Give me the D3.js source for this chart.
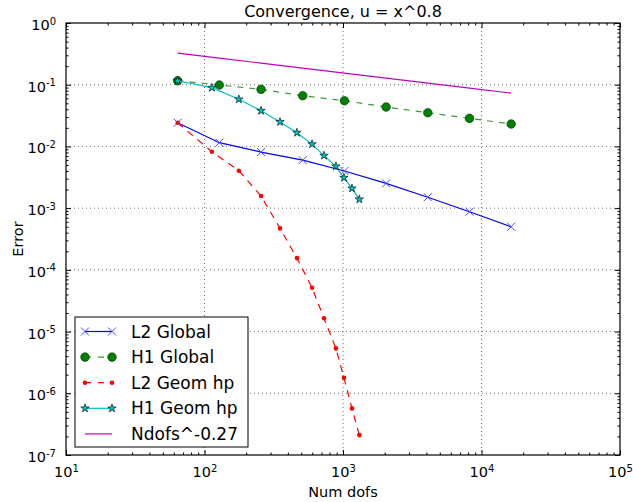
<!DOCTYPE html>
<html><head><meta charset="utf-8">
<script src="https://cdn.jsdelivr.net/npm/d3@7"></script>
<style>
body{margin:0;background:#fff;}
text{font-family:"DejaVu Sans",sans-serif;fill:#000;}
</style></head>
<body><svg id="c" width="633" height="502"></svg>
<script>
// ---- data ----
const globalDofs = [64, 128, 256, 512, 1024, 2048, 4096, 8192, 16384];
const l2Global   = [0.0242, 0.0115, 0.0081, 0.0060, 0.0040, 0.00252, 0.0015, 0.000875, 0.0005];
const h1Global   = [0.116, 0.099, 0.084, 0.0664, 0.055, 0.0435, 0.0352, 0.0285, 0.0231];
const geomDofs   = [64, 113, 177, 256, 351, 465, 598, 729, 889, 1016, 1161, 1312];
const l2Geom     = [0.0242, 0.0082, 0.00404, 0.00157, 0.00047, 0.000155, 5.13e-5, 1.64e-5, 5.34e-6, 1.78e-6, 5.69e-7, 2.1e-7];
const h1Geom     = [0.116, 0.0895, 0.058, 0.0379, 0.0249, 0.0167, 0.0109, 0.0071, 0.00476, 0.00311, 0.00209, 0.00139];
const refDofs    = [64, 128, 256, 512, 1024, 2048, 4096, 8192, 16384];
const refVals    = [0.325, 0.270, 0.224, 0.186, 0.154, 0.128, 0.106, 0.088, 0.073];
const xMajor = [1e1, 1e2, 1e3, 1e4, 1e5];
const yMajor = [1e-7, 1e-6, 1e-5, 1e-4, 1e-3, 1e-2, 1e-1, 1e0];
const seriesNames = ["L2 Global", "H1 Global", "L2 Geom hp", "H1 Geom hp", "Ndofs^-0.27"];
const title = "Convergence, u = x^0.8";
const xLabel = "Num dofs", yLabel = "Error";

// ---- layout ----
const L = 66, R = 620, T = 23, B = 455;
const svg = d3.select("#c");
const x = d3.scaleLog().domain([1e1, 1e5]).range([L, R]);
const y = d3.scaleLog().domain([1e-7, 1e0]).range([B, T]);

function minors(maj) {
  const out = [];
  for (let i = 0; i < maj.length - 1; i++) for (let k = 2; k <= 9; k++) out.push(maj[i] * k);
  return out;
}
const xMinor = minors(xMajor), yMinor = minors(yMajor);

// grid
const grid = svg.append("g");
grid.selectAll(".gx").data(xMajor.slice(1, -1)).enter().append("line")
  .attr("x1", d => x(d)).attr("x2", d => x(d)).attr("y1", T).attr("y2", B)
  .attr("stroke", "#000").attr("stroke-width", 0.8).attr("stroke-dasharray", "1,3").attr("opacity", 0.7);
grid.selectAll(".gy").data(yMajor.slice(1, -1)).enter().append("line")
  .attr("y1", d => y(d)).attr("y2", d => y(d)).attr("x1", L).attr("x2", R)
  .attr("stroke", "#000").attr("stroke-width", 0.8).attr("stroke-dasharray", "1,3").attr("opacity", 0.7);

// axes (ticks inward)
function supLabels(g) {
  g.selectAll(".tick text").each(function(d) {
    const t = d3.select(this);
    const e = Math.round(Math.log10(d));
    t.text("10");
    t.append("tspan").attr("dy", "-0.55em").attr("font-size", "10px").text(e);
  });
}
const axStyle = g => { g.select(".domain").remove(); g.selectAll(".tick line").attr("stroke", "#000"); };

const gxB = svg.append("g").attr("transform", `translate(0,${B})`)
  .call(d3.axisBottom(x).tickValues(xMajor).tickSize(-5).tickPadding(12)).call(axStyle);
gxB.selectAll(".tick text").attr("font-size", "14.5px");
supLabels(gxB);
svg.append("g").attr("transform", `translate(0,${B})`)
  .call(d3.axisBottom(x).tickValues(xMinor).tickSize(-2.5).tickFormat("")).call(axStyle);
svg.append("g").attr("transform", `translate(0,${T})`)
  .call(d3.axisTop(x).tickValues(xMajor).tickSize(-5).tickFormat("")).call(axStyle);
svg.append("g").attr("transform", `translate(0,${T})`)
  .call(d3.axisTop(x).tickValues(xMinor).tickSize(-2.5).tickFormat("")).call(axStyle);

const gyL = svg.append("g").attr("transform", `translate(${L},0)`)
  .call(d3.axisLeft(y).tickValues(yMajor).tickSize(-5).tickPadding(10)).call(axStyle);
gyL.selectAll(".tick text").attr("font-size", "14.5px").attr("dy", "0.45em");
supLabels(gyL);
svg.append("g").attr("transform", `translate(${L},0)`)
  .call(d3.axisLeft(y).tickValues(yMinor).tickSize(-2.5).tickFormat("")).call(axStyle);
svg.append("g").attr("transform", `translate(${R},0)`)
  .call(d3.axisRight(y).tickValues(yMajor).tickSize(-5).tickFormat("")).call(axStyle);
svg.append("g").attr("transform", `translate(${R},0)`)
  .call(d3.axisRight(y).tickValues(yMinor).tickSize(-2.5).tickFormat("")).call(axStyle);

// frame
svg.append("rect").attr("x", L).attr("y", T).attr("width", R - L).attr("height", B - T)
  .attr("fill", "none").attr("stroke", "#000").attr("stroke-width", 1.2);

// ---- series ----
const C = { blue: "#0000ff", green: "#008000", red: "#ff0000", cyan: "#00bfbf", mag: "#bf00bf" };
const line = d3.line().x(d => x(d[0])).y(d => y(d[1]));
const zip = (a, b) => a.map((v, i) => [v, b[i]]);
const star = d3.symbol().type(d3.symbolStar).size(22)();
const cross = "M-4,-4L4,4M-4,4L4,-4";

const plot = svg.append("g");
function drawSeries(g, pts, color, dash, marker) {
  g.append("path").attr("d", line(pts)).attr("fill", "none").attr("stroke", color)
    .attr("stroke-width", 1.2).attr("stroke-dasharray", dash || null);
  g.selectAll(null).data(pts).enter().append("g")
    .attr("transform", d => `translate(${x(d[0])},${y(d[1])})`).each(function() { marker(d3.select(this)); });
}
const mk = {
  cross: s => s.append("path").attr("d", cross).attr("stroke", "#4c4cff").attr("stroke-width", 1).attr("fill", "none"),
  circ: s => s.append("circle").attr("r", 4.3).attr("fill", C.green).attr("stroke", "#003000").attr("stroke-width", 0.6),
  dot: s => s.append("circle").attr("r", 2.3).attr("fill", C.red),
  star: s => s.append("path").attr("d", star).attr("fill", C.cyan).attr("stroke", "#000").attr("stroke-width", 0.6),
  none: s => {}
};
drawSeries(plot.append("g"), zip(refDofs, refVals), C.mag, null, mk.none);
drawSeries(plot.append("g"), zip(globalDofs, l2Global), C.blue, null, mk.cross);
drawSeries(plot.append("g"), zip(globalDofs, h1Global), "#3a9a3a", "6,6", mk.circ);
drawSeries(plot.append("g"), zip(geomDofs, l2Geom), C.red, "7,6", mk.dot);
drawSeries(plot.append("g"), zip(geomDofs, h1Geom), C.cyan, null, mk.star);

// ---- legend ----
const lg = svg.append("g");
lg.append("rect").attr("x", 75).attr("y", 317).attr("width", 173).attr("height", 130)
  .attr("fill", "#fff").attr("stroke", "#000").attr("stroke-width", 1);
const legStyles = [
  { c: C.blue, dash: null, m: mk.cross },
  { c: "#3a9a3a", dash: "6,6", m: mk.circ },
  { c: C.red, dash: "6,6", m: mk.dot },
  { c: C.cyan, dash: null, m: mk.star },
  { c: C.mag, dash: null, m: mk.none }
];
seriesNames.forEach((name, i) => {
  const yy = 331.5 + i * 25.6;
  const st = legStyles[i];
  lg.append("line").attr("x1", 85).attr("x2", 112).attr("y1", yy).attr("y2", yy)
    .attr("stroke", st.c).attr("stroke-width", 1.2).attr("stroke-dasharray", st.dash ? "6,7" : null);
  [85, 112].forEach(px => st.m(lg.append("g").attr("transform", `translate(${px},${yy})`)));
  lg.append("text").attr("x", 131).attr("y", yy).attr("dy", "0.36em").attr("font-size", "17px").text(name);
});

// ---- titles ----
svg.append("text").attr("x", (L + R) / 2).attr("y", 17).attr("text-anchor", "middle")
  .attr("font-size", "16px").text(title);
svg.append("text").attr("x", (L + R) / 2).attr("y", 497).attr("text-anchor", "middle")
  .attr("font-size", "14.5px").text(xLabel);
svg.append("text").attr("transform", `translate(23,${(T + B) / 2}) rotate(-90)`).attr("text-anchor", "middle")
  .attr("font-size", "14.5px").text(yLabel);
</script></body></html>
